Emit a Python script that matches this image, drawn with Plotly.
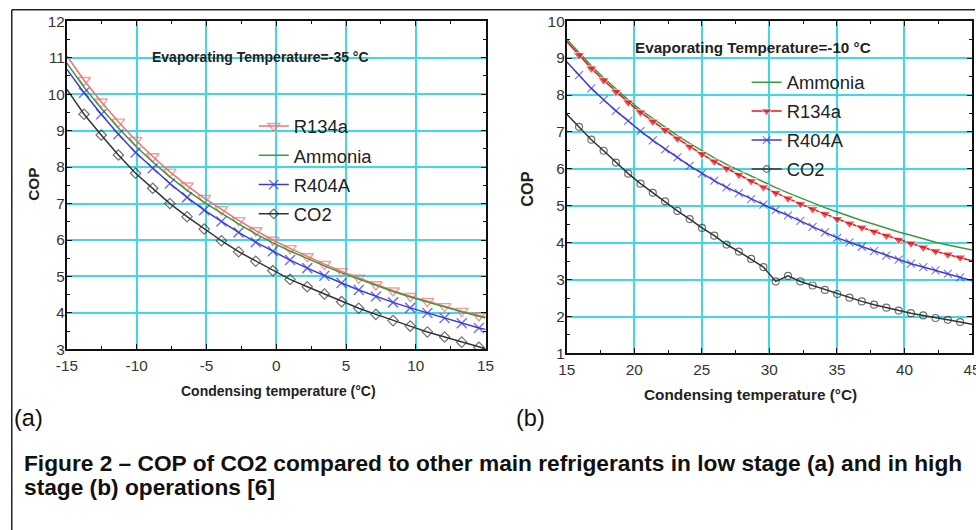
import plotly.graph_objects as go

# ---------------- data: panel (a) Evaporating temperature -35 C ----------------
cond_a = [-15, -13.77, -12.54, -11.31, -10.08, -8.85, -7.62, -6.39, -5.16, -3.93,
          -2.7, -1.47, -0.24, 0.99, 2.22, 3.45, 4.68, 5.91, 7.14, 8.37,
          9.6, 10.83, 12.06, 13.29, 14.52, 15]
r134a_a = [11.05, 10.38, 9.79, 9.24, 8.74, 8.29, 7.87, 7.49, 7.15, 6.84,
           6.54, 6.26, 6.00, 5.77, 5.55, 5.34, 5.14, 4.96, 4.78, 4.61,
           4.46, 4.32, 4.18, 4.05, 3.93, 3.89]
ammonia_a = [10.85, 10.19, 9.61, 9.07, 8.58, 8.14, 7.73, 7.36, 7.03, 6.73,
             6.44, 6.17, 5.92, 5.70, 5.49, 5.29, 5.10, 4.93, 4.75, 4.59,
             4.44, 4.30, 4.16, 4.03, 3.91, 3.86]
r404a_a = [10.68, 10.04, 9.45, 8.90, 8.40, 7.97, 7.55, 7.17, 6.82, 6.51,
           6.21, 5.94, 5.69, 5.45, 5.23, 5.02, 4.82, 4.63, 4.45, 4.29,
           4.14, 4.00, 3.86, 3.72, 3.59, 3.55]
co2_a = [10.13, 9.45, 8.88, 8.33, 7.83, 7.42, 7.00, 6.64, 6.30, 5.98,
         5.68, 5.42, 5.16, 4.92, 4.72, 4.52, 4.31, 4.13, 3.96, 3.79,
         3.64, 3.48, 3.34, 3.20, 3.06, 3.02]

# ---------------- data: panel (b) Evaporating temperature -10 C ----------------
cond_b = [15, 15.91, 16.82, 17.73, 18.64, 19.55, 20.46, 21.37, 22.28, 23.19,
          24.1, 25.01, 25.92, 26.83, 27.74, 28.65, 29.56, 30.47, 31.38, 32.29,
          33.2, 34.11, 35.02, 35.93, 36.84, 37.75, 38.66, 39.57, 40.48, 41.39,
          42.3, 43.21, 44.12, 45]
ammonia_b = [9.51, 9.15, 8.79, 8.47, 8.16, 7.87, 7.60, 7.36, 7.13, 6.90,
             6.69, 6.49, 6.30, 6.12, 5.96, 5.80, 5.64, 5.49, 5.35, 5.21,
             5.08, 4.95, 4.83, 4.71, 4.60, 4.50, 4.39, 4.29, 4.20, 4.10,
             4.01, 3.94, 3.87, 3.80]
r134a_b = [9.45, 9.08, 8.72, 8.40, 8.09, 7.80, 7.53, 7.28, 7.05, 6.82,
           6.60, 6.40, 6.20, 6.01, 5.84, 5.67, 5.50, 5.35, 5.20, 5.05,
           4.91, 4.78, 4.64, 4.52, 4.41, 4.30, 4.19, 4.08, 3.98, 3.87,
           3.77, 3.68, 3.60, 3.51]
r404a_b = [8.90, 8.54, 8.18, 7.87, 7.57, 7.30, 7.02, 6.77, 6.53, 6.31,
           6.08, 5.87, 5.68, 5.50, 5.34, 5.18, 5.03, 4.88, 4.74, 4.59,
           4.43, 4.28, 4.13, 4.01, 3.89, 3.77, 3.65, 3.54, 3.43, 3.34,
           3.25, 3.16, 3.06, 2.97]
co2_b = [7.48, 7.14, 6.79, 6.49, 6.17, 5.87, 5.60, 5.35, 5.12, 4.86,
         4.64, 4.40, 4.19, 3.95, 3.76, 3.56, 3.34, 2.95, 3.10, 2.95,
         2.84, 2.72, 2.61, 2.51, 2.41, 2.32, 2.24, 2.16, 2.09, 2.03,
         1.96, 1.91, 1.85, 1.79]

x_ticks_a = [-15, -10, -5, 0, 5, 10, 15]
x_labels_a = ["-15", "-10", "-5", "0", "5", "10", "15"]
y_ticks_a = [3, 4, 5, 6, 7, 8, 9, 10, 11, 12]
x_ticks_b = [15, 20, 25, 30, 35, 40, 45]
y_ticks_b = [1, 2, 3, 4, 5, 6, 7, 8, 9, 10]

# The photographed page keeps an 8 px body margin and is scaled from
# 992x546 down to 976x530, so positions (given in target-picture pixels)
# are converted to figure pixels here.
OUT_W, OUT_H, OFF = 976, 530, 8
SX, SY = OUT_W / (OUT_W + 2 * OFF), OUT_H / (OUT_H + 2 * OFF)
W, H = OUT_W + OFF, OUT_H + OFF
FS = 2 / (SX + SY)          # font compensation for the down-scaling
FONT = "Liberation Sans, Arial, sans-serif"

def fx(v):
    return v / SX - OFF

def fy(v):
    return v / SY - OFF

def px(v):
    return min(1.0, max(0.0, fx(v) / W))

def py(v):
    return min(1.0, max(0.0, 1 - fy(v) / H))

def msizes(n, s):
    # no marker on the two end points of each curve
    return [0] + [s] * (n - 2) + [0]

RED_A = "#F07070"
RED_B = "#E8141C"
BLUE = "#3B3BDB"
GREEN = "#3C9A3C"
DARK = "#333333"

fig = go.Figure()

# panel (a)
fig.add_trace(go.Scatter(x=cond_a, y=r134a_a, name="R134a", mode="lines+markers",
    line=dict(color=RED_A, width=1.5),
    marker=dict(symbol="triangle-down-open", size=msizes(len(cond_a), 11), color=RED_A, line=dict(width=1.4)),
    xaxis="x", yaxis="y", legend="legend", legendgroup="a1"))
fig.add_trace(go.Scatter(x=cond_a, y=ammonia_a, name="Ammonia", mode="lines",
    line=dict(color=GREEN, width=1.5),
    xaxis="x", yaxis="y", legend="legend", legendgroup="a2"))
fig.add_trace(go.Scatter(x=cond_a, y=r404a_a, name="R404A", mode="lines+markers",
    line=dict(color=BLUE, width=1.5),
    marker=dict(symbol="x-thin-open", size=msizes(len(cond_a), 10), color=BLUE, line=dict(width=1.5, color=BLUE)),
    xaxis="x", yaxis="y", legend="legend", legendgroup="a3"))
fig.add_trace(go.Scatter(x=cond_a, y=co2_a, name="CO2", mode="lines+markers",
    line=dict(color=DARK, width=1.5),
    marker=dict(symbol="diamond-open", size=msizes(len(cond_a), 8), color=DARK, line=dict(width=1.2)),
    xaxis="x", yaxis="y", legend="legend", legendgroup="a4"))

# panel (b)
fig.add_trace(go.Scatter(x=cond_b, y=ammonia_b, name="Ammonia", mode="lines",
    line=dict(color=GREEN, width=1.5),
    xaxis="x2", yaxis="y2", legend="legend2", legendgroup="b1"))
fig.add_trace(go.Scatter(x=cond_b, y=r134a_b, name="R134a", mode="lines+markers",
    line=dict(color=RED_B, width=1.5),
    marker=dict(symbol="triangle-down", size=msizes(len(cond_b), 10), color=RED_B),
    xaxis="x2", yaxis="y2", legend="legend2", legendgroup="b2"))
fig.add_trace(go.Scatter(x=cond_b, y=r404a_b, name="R404A", mode="lines+markers",
    line=dict(color=BLUE, width=1.5),
    marker=dict(symbol="x-thin-open", size=msizes(len(cond_b), 8), color=BLUE, line=dict(width=1.1, color=BLUE)),
    xaxis="x2", yaxis="y2", legend="legend2", legendgroup="b3"))
fig.add_trace(go.Scatter(x=cond_b, y=co2_b, name="CO2", mode="lines+markers",
    line=dict(color=DARK, width=1.5),
    marker=dict(symbol="circle-open", size=msizes(len(cond_b), 7), color=DARK, line=dict(width=1.2)),
    xaxis="x2", yaxis="y2", legend="legend2", legendgroup="b4"))

GRID = "#40D8E6"
TICKFONT = dict(family=FONT, size=15 * FS, color="#333")

def xax(dom, rng, tv, anchor, tt=None):
    d = dict(domain=dom, range=rng, tickvals=tv, showgrid=True, gridcolor=GRID, gridwidth=1.5,
             showline=True, linecolor="#111", linewidth=2, mirror="ticks",
             ticks="inside", ticklen=5, tickcolor="#111", zeroline=False, anchor=anchor,
             ticklabelstandoff=1, ticklabeloverflow="allow", tickfont=TICKFONT,
             minor=dict(dtick=2.5, ticks="inside", ticklen=3, tickcolor="#111", showgrid=False))
    if tt is not None:
        d["ticktext"] = tt
    return d

def yax(dom, rng, tv, anchor):
    return dict(domain=dom, range=rng, tickvals=tv, showgrid=True, gridcolor=GRID, gridwidth=1.5,
                showline=True, linecolor="#111", linewidth=2, mirror="ticks",
                ticks="inside", ticklen=5, tickcolor="#111", zeroline=False, anchor=anchor,
                ticklabelstandoff=-3, ticklabeloverflow="allow", tickfont=TICKFONT,
                minor=dict(dtick=0.5, ticks="inside", ticklen=3, tickcolor="#111", showgrid=False))

legend_common = dict(bgcolor="rgba(0,0,0,0)", borderwidth=0, itemwidth=30,
                     font=dict(family=FONT, size=18 * FS, color="#222"),
                     xanchor="left", yanchor="top")

fig.update_layout(
    width=W, height=H, margin=dict(l=0, r=0, t=0, b=0),
    paper_bgcolor="white", plot_bgcolor="white",
    font=dict(family=FONT),
    xaxis=xax([px(64), px(484.5)], [-15, 15], x_ticks_a, "y", x_labels_a),
    yaxis=yax([py(349), py(20)], [3, 12], y_ticks_a, "x"),
    xaxis2=xax([px(566), px(973)], [15, 45], x_ticks_b, "y2"),
    yaxis2=yax([py(353), py(20)], [1, 10], y_ticks_b, "x2"),
    legend=dict(x=(fx(293) - 42) / W, y=1 - (fy(126.5) - 20.5) / H, tracegroupgap=2.3, **legend_common),
    legend2=dict(x=(fx(788) - 42) / W, y=1 - (fy(82.5) - 20.5) / H, tracegroupgap=2, **legend_common),
    showlegend=True,
)

ann = []
def A(text, x, y, size, angle=0, xanchor="center", color="#222"):
    ann.append(dict(text=text, x=px(x), y=py(y), xref="paper", yref="paper",
                    showarrow=False, xanchor=xanchor, yanchor="middle", textangle=angle,
                    font=dict(family=FONT, size=size * FS, color=color)))

A("<b>Evaporating Temperature=-35 °C</b>", 258.5, 56, 13.7)
A("<b>Evaporating Temperature=-10 °C</b>", 753.5, 46, 14.9)
A("<b>COP</b>", 31, 184, 15, angle=-90)
A("<b>COP</b>", 526, 188, 16, angle=-90)
A("<b>Condensing temperature (°C)</b>", 277, 391, 13.7)
A("<b>Condensing temperature (°C)</b>", 751, 394, 15)
A("(a)", 9, 418, 23, xanchor="left", color="#111")
A("(b)", 513, 418, 23, xanchor="left", color="#111")
A("<b>Figure 2 – COP of CO2 compared to other main refrigerants in low stage (a) and in high</b>",
  19, 463, 22.2, xanchor="left", color="#111")
A("<b>stage (b) operations [6]</b>", 19, 487, 22.2, xanchor="left", color="#111")

fig.update_layout(annotations=ann)

# outer frame (top and left edges visible in the picture)
fig.update_layout(shapes=[
    dict(type="line", xref="paper", yref="paper", x0=0.0008, y0=1 - 0.8 / H, x1=1, y1=1 - 0.8 / H,
         line=dict(color="#222", width=1.5)),
    dict(type="line", xref="paper", yref="paper", x0=0.0008, y0=1 - 0.8 / H, x1=0.0008, y1=0,
         line=dict(color="#222", width=1.5)),
])

fig.write_html("out.html")
